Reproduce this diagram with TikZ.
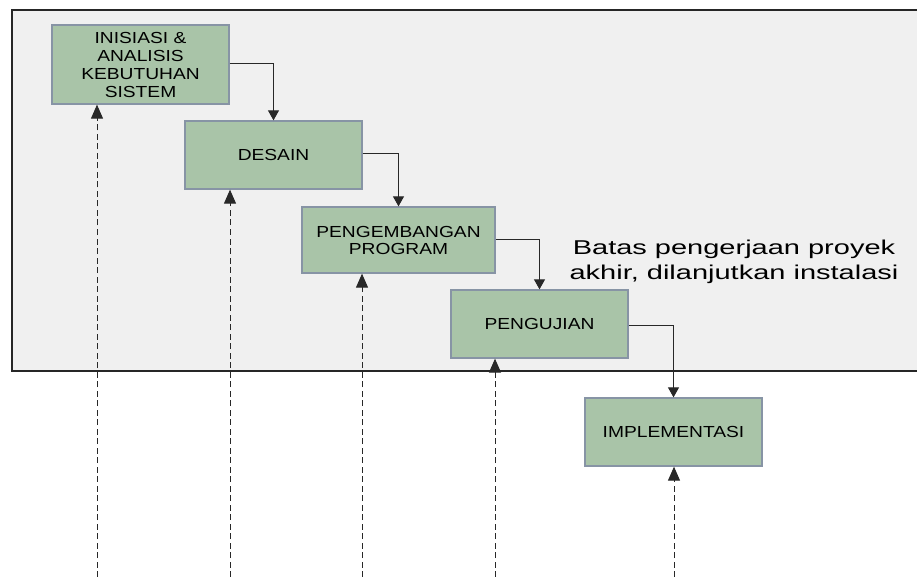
\documentclass[tikz,border=0pt]{standalone}
\usepackage{fontspec}
\usetikzlibrary{arrows.meta}
\newfontfamily\boxfont{Liberation Sans}[FakeStretch=1.2]
\newfontfamily\notefont{Liberation Sans}[FakeStretch=1.45]
\definecolor{bgfill}{RGB}{240,240,240}
\definecolor{boxfill}{RGB}{169,196,168}
\definecolor{boxline}{RGB}{135,148,165}
\definecolor{linecol}{RGB}{40,40,40}
\tikzset{
  stagebox/.style={draw=boxline, line width=1.3pt, fill=boxfill, minimum width=177pt, minimum height=68pt,
    inner sep=0pt, align=center, font=\boxfont\fontsize{16}{18}\selectfont, text=black},
  flowarrow/.style={draw=linecol, line width=1pt, -{Triangle[length=10pt,width=11pt]}},
  dasharrow/.style={draw=linecol, line width=1pt, dash pattern=on 6pt off 3.5pt, -{Triangle[length=14pt,width=12pt]}},
  notetext/.style={align=center, font=\notefont\fontsize{20}{25}\selectfont, text=black}
}
\begin{document}
\begin{tikzpicture}[x=1pt,y=-1pt]
\useasboundingbox (0,0) rectangle (917,577);
\clip (0,0) rectangle (917,577);
\fill[white] (0,0) rectangle (917,577);
\draw[fill=bgfill, draw=black!85, line width=1.5pt] (12,10) rectangle (930,371);

\node[stagebox, minimum height=79pt] (b1) at (140.5,64.5) {INISIASI \&\\ANALISIS\\KEBUTUHAN\\SISTEM};
\node[stagebox] (b2) at (273.5,155) {DESAIN};
\node[stagebox, minimum width=193pt, minimum height=66pt, font=\boxfont\fontsize{16}{17}\selectfont] (b3) at (398.5,240) {PENGEMBANGAN\\PROGRAM};
\node[stagebox] (b4) at (539.5,324) {PENGUJIAN};
\node[stagebox] (b5) at (673.5,432) {IMPLEMENTASI};

\node[notetext] (note) at (734,262) {Batas pengerjaan proyek\\akhir, dilanjutkan instalasi};

\draw[flowarrow] (b1.east |- 0,64) -| (b2.north);
\draw[flowarrow] (b2.east |- 0,154) -| (b3.north);
\draw[flowarrow] (b3.east |- 0,239) -| (b4.north);
\draw[flowarrow] (b4.east |- 0,325) -| (b5.north);

\coordinate (d1) at (97,577);
\coordinate (d2) at (230,577);
\coordinate (d3) at (362,577);
\coordinate (d4) at (495,577);
\coordinate (d5) at (674,577);
\draw[dasharrow] (d1) -- (d1 |- b1.south);
\draw[dasharrow] (d2) -- (d2 |- b2.south);
\draw[dasharrow] (d3) -- (d3 |- b3.south);
\draw[dasharrow] (d4) -- (d4 |- b4.south);
\draw[dasharrow] (d5) -- (d5 |- b5.south);
\end{tikzpicture}
\end{document}
